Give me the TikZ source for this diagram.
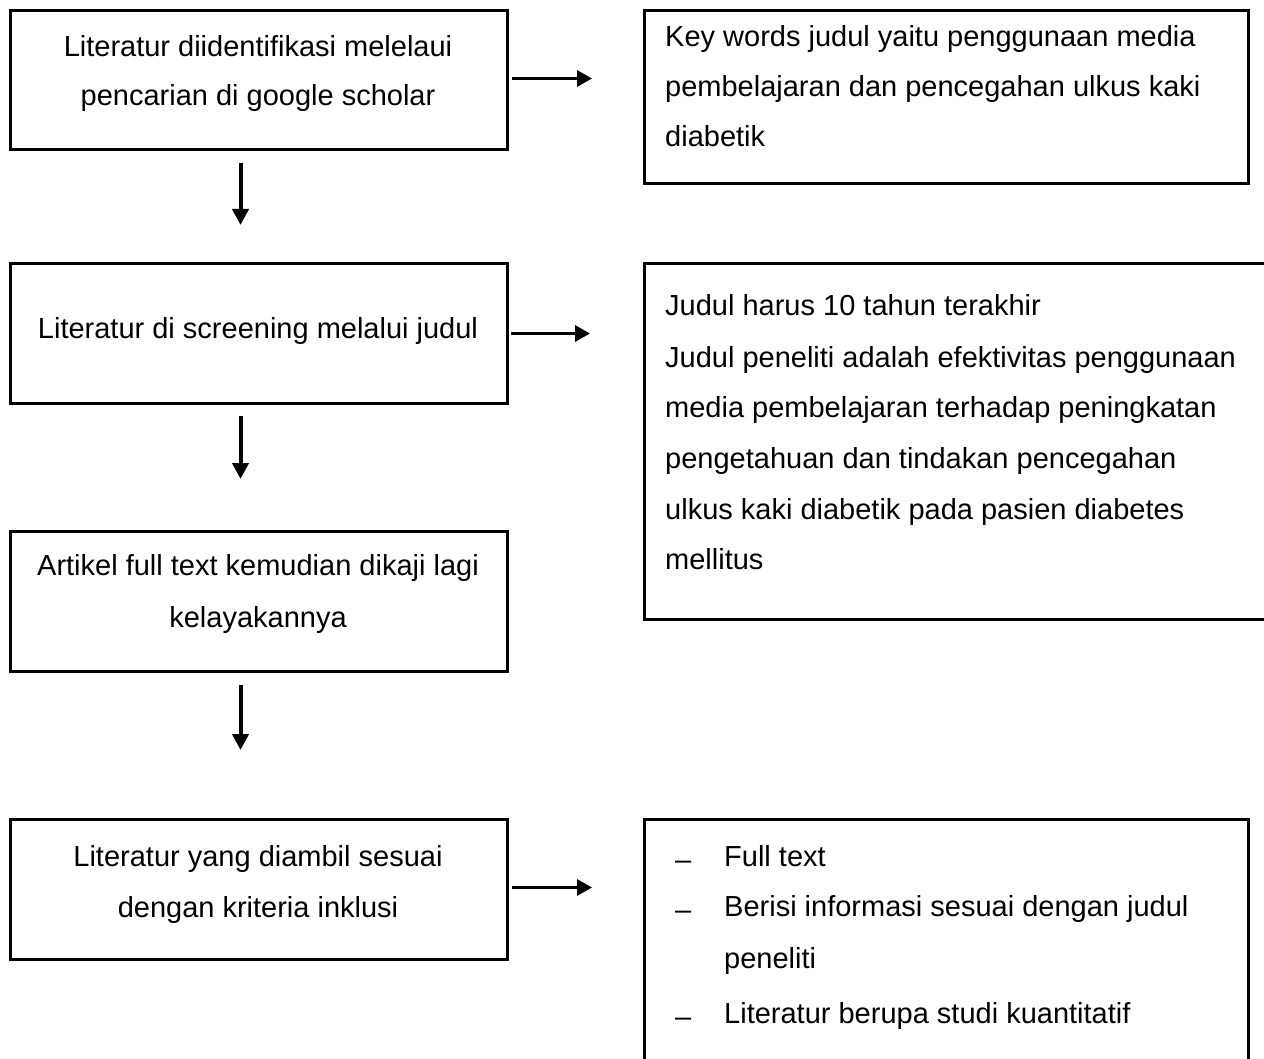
\documentclass[tikz,border=0pt]{standalone}
\usepackage{fontspec}
\setmainfont{Liberation Sans}
\usetikzlibrary{arrows.meta}
\begin{document}
\begin{tikzpicture}[x=1pt,y=-1pt,
  box/.style={draw=black,line width=3pt,rectangle,inner sep=0pt,anchor=north west},
  txt/.style={inner sep=0pt,anchor=base,font=\fontsize{29}{35}\selectfont},
  ltxt/.style={inner sep=0pt,anchor=base west,font=\fontsize{29}{35}\selectfont},
  harr/.style={line width=3pt,-{Triangle[length=15pt,width=16pt]}},
  varr/.style={line width=4pt,-{Triangle[length=16pt,width=16pt]}}]
\useasboundingbox (0,0) rectangle (1264,1059);
% left boxes
\node[box,minimum width=497pt,minimum height=139pt] (b1) at (9,9) {};
\node[box,minimum width=497pt,minimum height=140pt] (b2) at (9,262) {};
\node[box,minimum width=497pt,minimum height=140pt] (b3) at (9,530) {};
\node[box,minimum width=497pt,minimum height=140pt] (b4) at (9,818) {};
% right boxes
\node[box,minimum width=604pt,minimum height=173pt] (r1) at (643,9) {};
\node[box,minimum width=640pt,minimum height=356pt] (r2) at (643,262) {};
\node[box,minimum width=604pt,minimum height=260pt] (r3) at (643,818) {};
% texts left
\node[txt] (t1a) at (258,57) {Literatur diidentifikasi melelaui};
\node[txt] (t1b) at (258,106) {pencarian di google scholar};
\node[txt] (t2a) at (258,339) {Literatur di screening melalui judul};
\node[txt] (t3a) at (258,575) {Artikel full text kemudian dikaji lagi};
\node[txt] (t3b) at (258,627) {kelayakannya};
\node[txt] (t4a) at (258,866) {Literatur yang diambil sesuai};
\node[txt] (t4b) at (258,917) {dengan kriteria inklusi};
% texts right
\node[ltxt] (s1a) at (665,47) {Key words judul yaitu penggunaan media};
\node[ltxt] (s1b) at (665,97) {pembelajaran dan pencegahan ulkus kaki};
\node[ltxt] (s1c) at (665,147) {diabetik};
\node[ltxt] (s2a) at (665,316) {Judul harus 10 tahun terakhir};
\node[ltxt] (s2b) at (665,367) {Judul peneliti adalah efektivitas penggunaan};
\node[ltxt] (s2c) at (665,417) {media pembelajaran terhadap peningkatan};
\node[ltxt] (s2d) at (665,468) {pengetahuan dan tindakan pencegahan};
\node[ltxt] (s2e) at (665,519) {ulkus kaki diabetik pada pasien diabetes};
\node[ltxt] (s2f) at (665,569) {mellitus};
\node[ltxt] (d1) at (675,866) {\raisebox{-3pt}{–}};
\node[ltxt] (u1) at (724,866) {Full text};
\node[ltxt] (d2) at (675,916) {\raisebox{-3pt}{–}};
\node[ltxt] (u2) at (724,916) {Berisi informasi sesuai dengan judul};
\node[ltxt] (u2b) at (724,968) {peneliti};
\node[ltxt] (d3) at (675,1023) {\raisebox{-3pt}{–}};
\node[ltxt] (u3) at (724,1023) {Literatur berupa studi kuantitatif};
% arrows right
\draw[harr,shorten <=3pt,shorten >=51pt] ([yshift=1.5pt]b1.east) -- ([yshift=1.5pt]b1.east -| r1.west);
\draw[harr,shorten <=2pt,shorten >=53pt] (b2.east) -- (b2.east -| r2.west);
\draw[harr,shorten <=3pt,shorten >=51pt] ([yshift=2pt]b4.east) -- ([yshift=2pt]b4.east -| r3.west);
% arrows down
\draw[varr,shorten <=12pt,shorten >=37pt] ([xshift=-18.5pt]b1.south) -- ([xshift=-18.5pt]b2.north);
\draw[varr,shorten <=11pt,shorten >=51pt] ([xshift=-18.5pt]b2.south) -- ([xshift=-18.5pt]b3.north);
\draw[varr,shorten <=12pt,shorten >=68pt] ([xshift=-18.5pt]b3.south) -- ([xshift=-18.5pt]b4.north);
\end{tikzpicture}
\end{document}
